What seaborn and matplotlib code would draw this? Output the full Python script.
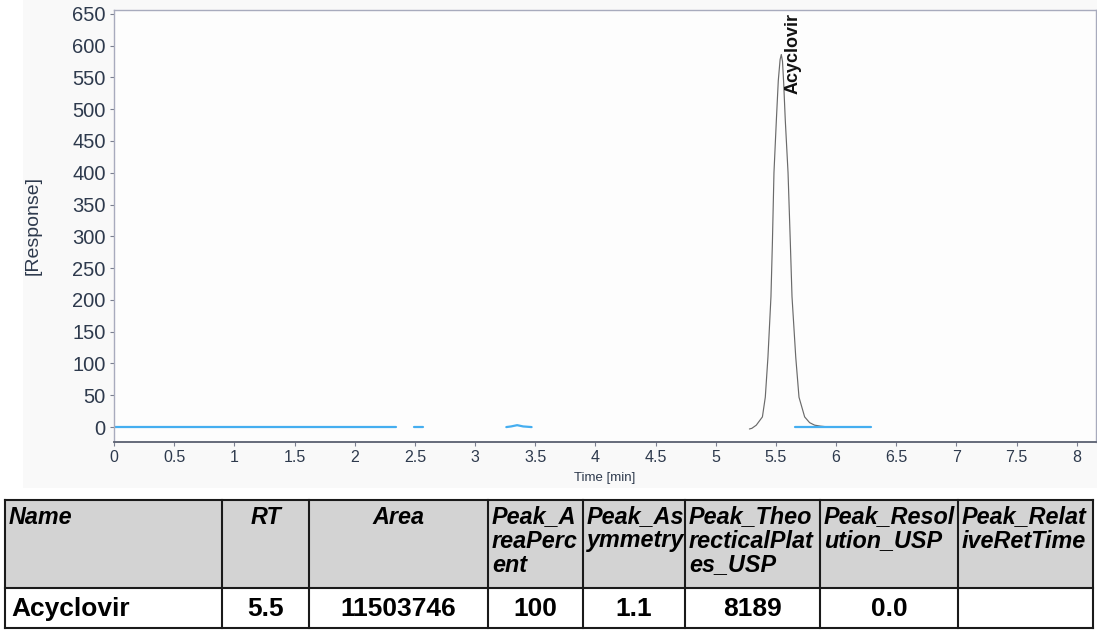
import numpy as np
import pandas as pd
import matplotlib
matplotlib.use("Agg")
import matplotlib.pyplot as plt
from matplotlib.patches import Rectangle
import seaborn as sns

# ---------------- data ----------------
peak_time = [5.28, 5.30, 5.337, 5.388, 5.412, 5.434, 5.459, 5.471, 5.484, 5.504,
             5.52, 5.535, 5.545, 5.555, 5.565, 5.578, 5.601, 5.62, 5.634, 5.665,
             5.692, 5.739, 5.78, 5.822, 5.87, 5.92, 6.03]
peak_resp = [-3, -2, 3, 16, 47, 110, 205, 290, 400, 483,
             545, 578, 586, 575, 540, 483, 400, 290, 205, 110,
             47, 16, 7, 3, 1.5, 0.5, 0]

base1_time = [0.0, 2.34]
base1_resp = [0, 0]
base2_time = [2.49, 2.57]
base2_resp = [0, 0]
base3_time = [3.26, 3.30, 3.35, 3.40, 3.47]
base3_resp = [0, 1, 3, 1, 0]
base4_time = [5.66, 6.29]
base4_resp = [0, 0]

peak_name = "Acyclovir"
peak_label_time = 5.64

x_ticks = [0, 0.5, 1, 1.5, 2, 2.5, 3, 3.5, 4, 4.5, 5, 5.5, 6, 6.5, 7, 7.5, 8]
y_ticks = [0, 50, 100, 150, 200, 250, 300, 350, 400, 450, 500, 550, 600, 650]

header_lines = [["Name"], ["RT"], ["Area"], ["Peak_A", "reaPerc", "ent"],
                ["Peak_As", "ymmetry"], ["Peak_Theo", "recticalPlat", "es_USP"],
                ["Peak_Resol", "ution_USP"], ["Peak_Relat", "iveRetTime"]]
header_align = ["left", "center", "center", "left", "left", "left", "left", "left"]
row_values = ["Acyclovir", "5.5", "11503746", "100", "1.1", "8189", "0.0", ""]
row_align = ["left", "center", "center", "center", "center", "center", "center", "center"]

# ---------------- style ----------------
sns.set_theme(style="white")
plt.rcParams["font.family"] = ["Liberation Sans", "DejaVu Sans"]

W, H = 1097, 630
fig = plt.figure(figsize=(W / 100, H / 100), dpi=100)
fig.patch.set_facecolor("white")
bg = Rectangle((23 / W, 1 - 488 / H), 1 - 23 / W, 488 / H,
               transform=fig.transFigure, facecolor="#f9f9f9",
               edgecolor="none", zorder=-5)
fig.patches.append(bg)

ax = fig.add_axes([114 / W, 1 - 441.7 / H, (1096 - 114) / W, (441.7 - 10) / H])
ax.set_zorder(2)
ax.set_facecolor("#fdfdfd")

blue = "#45aef0"
sns.lineplot(x=peak_time, y=peak_resp, ax=ax, color="#6a6a6a", lw=0.85,
             estimator=None, sort=False)
for t, r in [(base1_time, base1_resp), (base2_time, base2_resp),
             (base3_time, base3_resp), (base4_time, base4_resp)]:
    sns.lineplot(x=t, y=r, ax=ax, color=blue, lw=1.6, estimator=None, sort=False)

ax.set_xlim(0, 8.16)
ax.set_ylim(-23, 656)
ax.set_xticks(x_ticks)
ax.set_xticklabels([f"{v:g}" for v in x_ticks])
ax.set_yticks(y_ticks)
ax.set_yticklabels([str(v) for v in y_ticks])

tick_col = "#2e3a4d"
ax.tick_params(axis="y", which="both", left=True, length=3, width=0.8,
               color="#7a7f90", labelsize=14.5, labelcolor=tick_col, pad=3)
ax.tick_params(axis="x", which="both", bottom=True, length=3, width=0.8,
               color="#7a7f90", labelsize=11.5, labelcolor=tick_col, pad=3)
for s in ["left", "top", "right"]:
    ax.spines[s].set_color("#a8abbd")
    ax.spines[s].set_linewidth(1.0)
ax.spines["bottom"].set_color("#5a6070")
ax.spines["bottom"].set_linewidth(1.3)

ax.set_xlabel("Time [min]", fontsize=9.5, color=tick_col, labelpad=5)
ax.set_ylabel("[Response]", fontsize=14, color=tick_col, labelpad=22)

ax.text(peak_label_time, 652, peak_name, rotation=90, ha="center", va="top",
        fontsize=13, fontweight="bold", color="#111111")

# ---------------- table ----------------
tax = fig.add_axes([0, 0, 1, 1])
tax.set_zorder(1)
tax.set_xlim(0, W)
tax.set_ylim(H, 0)
tax.axis("off")
tax.patch.set_alpha(0)

col_edges = [5, 222, 309, 488, 583, 685, 820, 958, 1093]
row_edges = [500, 588, 628]
tax.add_patch(Rectangle((col_edges[0], row_edges[0]), col_edges[-1] - col_edges[0],
                        row_edges[1] - row_edges[0], facecolor="#d3d3d3",
                        edgecolor="none"))
lc = "#1a1a1a"
for xe in col_edges:
    tax.plot([xe, xe], [row_edges[0], row_edges[-1]], color=lc, lw=1.5,
             solid_capstyle="projecting")
for ye in row_edges:
    tax.plot([col_edges[0], col_edges[-1]], [ye, ye], color=lc, lw=1.5,
             solid_capstyle="projecting")

for i, lines in enumerate(header_lines):
    x0, x1 = col_edges[i], col_edges[i + 1]
    if header_align[i] == "left":
        xt, ha = x0 + 4, "left"
    else:
        xt, ha = (x0 + x1) / 2, "center"
    for j, ln in enumerate(lines):
        tax.text(xt, 517 + j * 24, ln, ha=ha, va="center", fontsize=16.8,
                 fontweight="bold", fontstyle="italic", color="black")

for i, val in enumerate(row_values):
    x0, x1 = col_edges[i], col_edges[i + 1]
    if row_align[i] == "left":
        xt, ha = x0 + 6, "left"
    else:
        xt, ha = (x0 + x1) / 2, "center"
    tax.text(xt, 609, val, ha=ha, va="center", fontsize=19,
             fontweight="bold", color="black")

fig.savefig("out.png", dpi=100)
